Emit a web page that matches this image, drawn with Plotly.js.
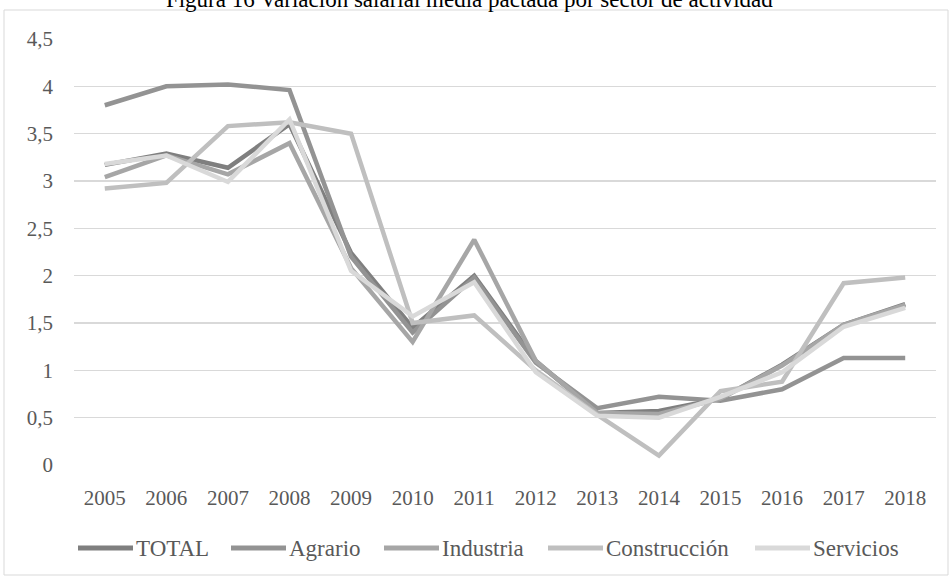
<!DOCTYPE html>
<html>
<head>
<meta charset="utf-8">
<script src="https://cdn.plot.ly/plotly-3.0.1.min.js"></script>
<style>html,body{margin:0;padding:0;background:#fff;}#chart{width:952px;height:576px;}</style>
</head>
<body>
<div id="chart"></div>
<script>
var years = ["2005","2006","2007","2008","2009","2010","2011","2012","2013","2014","2015","2016","2017","2018"];
var seriesNames = ["TOTAL","Agrario","Industria","Construcción","Servicios"];
var total        = [3.17, 3.29, 3.14, 3.60, 2.24, 1.45, 2.00, 1.10, 0.55, 0.57, 0.70, 1.06, 1.48, 1.70];
var agrario      = [3.80, 4.00, 4.02, 3.96, 2.20, 1.40, 1.98, 1.08, 0.60, 0.72, 0.68, 0.80, 1.13, 1.13];
var industria    = [3.04, 3.27, 3.07, 3.40, 2.08, 1.30, 2.38, 1.10, 0.55, 0.54, 0.70, 1.05, 1.48, 1.69];
var construccion = [2.92, 2.98, 3.58, 3.62, 3.50, 1.50, 1.58, 1.00, 0.53, 0.10, 0.78, 0.88, 1.92, 1.98];
var servicios    = [3.18, 3.27, 2.99, 3.65, 2.05, 1.57, 1.93, 0.98, 0.52, 0.50, 0.72, 0.98, 1.46, 1.66];
var yTicks = [0, 0.5, 1, 1.5, 2, 2.5, 3, 3.5, 4, 4.5];

var colors = ["#7f7f7f", "#939393", "#a6a6a6", "#bfbfbf", "#d9d9d9"];
var data = [total, agrario, industria, construccion, servicios];
var traces = data.map(function(vals, i){
  return {x: years, y: vals, type: 'scatter', mode: 'lines', name: seriesNames[i],
          line: {color: colors[i], width: 4.5}, hoverinfo: 'skip', showlegend: false};
});

// plot area geometry in pixels (for the hand-built legend and the outer frame)
var PL = 74, PW = 862, PB = 465, PH = 426;
function px2x(p){ return (p - PL) / PW; }
function px2y(p){ return (PB - p) / PH; }
var legendLineStart = [78, 231, 384, 548, 755];
var legendLineLen = 55;
var legendY = 548;

var font = {family: '"Liberation Serif", "Times New Roman", serif', size: 21, color: '#595959'};
var shapes = [{type: 'rect', xref: 'paper', yref: 'paper', x0: px2x(4), x1: px2x(948), y0: px2y(575), y1: px2y(10),
            line: {color: '#d9d9d9', width: 1}, fillcolor: 'rgba(0,0,0,0)', layer: 'below'}];
var annotations = [];
seriesNames.forEach(function(n, i){
  var s = legendLineStart[i];
  shapes.push({type: 'line', xref: 'paper', yref: 'paper', x0: px2x(s), x1: px2x(s + legendLineLen),
               y0: px2y(legendY), y1: px2y(legendY), line: {color: colors[i], width: 5}});
  annotations.push({xref: 'paper', yref: 'paper', x: px2x(s + legendLineLen + 1), y: px2y(legendY),
                    xanchor: 'left', yanchor: 'middle', showarrow: false, text: n,
                    font: {family: font.family, size: 23, color: '#595959'}});
});

var layout = {
  width: 952, height: 576,
  margin: {l: PL, r: 952 - PL - PW, t: PB - PH, b: 576 - PB},
  paper_bgcolor: '#ffffff', plot_bgcolor: '#ffffff',
  separators: ',.',
  font: font,
  title: {text: 'Figura 16 Variación salarial media pactada por sector de actividad',
          font: {family: font.family, size: 23, color: '#000000'},
          x: 0.493, xanchor: 'center', xref: 'container', y: 0.988, yanchor: 'bottom', yref: 'container'},
  xaxis: {type: 'category', range: [-0.5, 13.5], showgrid: false, zeroline: false, showline: false, ticks: '',
          tickfont: font, ticklabelstandoff: 18, fixedrange: true},
  yaxis: {range: [0, 4.5], tickvals: yTicks, showgrid: true, gridcolor: '#d9d9d9', gridwidth: 1.5,
          zeroline: false, showline: false, ticks: '', tickfont: font, ticklabelstandoff: 20, fixedrange: true},
  showlegend: false,
  shapes: shapes,
  annotations: annotations
};
Plotly.newPlot('chart', traces, layout, {displayModeBar: false, staticPlot: true});
</script>
</body>
</html>
